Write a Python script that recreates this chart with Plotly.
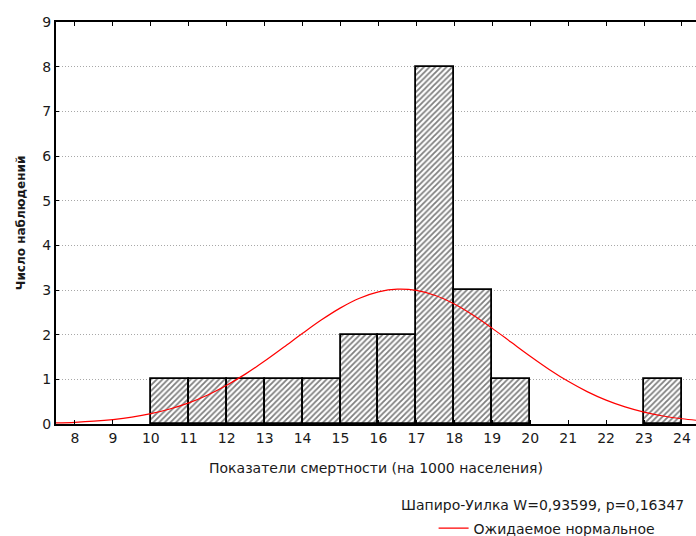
import plotly.graph_objects as go

# Histogram of mortality rates (per 1000 population)
bin_left = [10, 11, 12, 13, 14, 15, 16, 17, 18, 19, 23]
counts = [1, 1, 1, 1, 1, 2, 2, 8, 3, 1, 1]

# Expected normal curve (counts per unit bin)
curve_x = [7.5, 8, 8.5, 9, 9.5, 10, 10.5, 11, 11.5, 12, 12.5, 13, 13.5, 14,
           14.5, 15, 15.5, 16, 16.5, 17, 17.5, 18, 18.5, 19, 19.5, 20, 20.5,
           21, 21.5, 22, 22.5, 23, 23.5, 24, 24.5]
curve_y = [0.023, 0.038, 0.063, 0.100, 0.154, 0.231, 0.336, 0.474, 0.651,
           0.868, 1.122, 1.408, 1.716, 2.030, 2.332, 2.600, 2.815, 2.958,
           3.018, 2.990, 2.876, 2.685, 2.433, 2.141, 1.829, 1.518, 1.222,
           0.955, 0.725, 0.534, 0.382, 0.265, 0.179, 0.117, 0.074]

x_ticks = list(range(8, 25))
y_ticks = list(range(0, 10))

x_title = "Показатели смертности (на 1000 населения)"
y_title = "Число наблюдений"
test_text = "Шапиро-Уилка W=0,93599, p=0,16347"
curve_name = "Ожидаемое нормальное"

font = "DejaVu Sans, Verdana, sans-serif"
text_color = "#1a1a1a"

fig = go.Figure()
fig.add_trace(go.Bar(
    x=[b + 0.5 for b in bin_left],
    y=counts,
    width=1,
    marker=dict(
        color="white",
        line=dict(color="black", width=1.8),
        pattern=dict(shape="/", fgcolor="#000000", bgcolor="white",
                     size=4, solidity=0.45),
    ),
    showlegend=False,
))
fig.add_trace(go.Scatter(
    x=curve_x, y=curve_y, mode="lines", name=curve_name,
    line=dict(color="#ff0000", width=1.2, shape="spline"),
))

fig.update_layout(
    width=696, height=536,
    margin=dict(l=56, r=0, t=22, b=112, autoexpand=False),
    paper_bgcolor="white", plot_bgcolor="white",
    font=dict(family=font, size=14, color=text_color),
    bargap=0,
    xaxis=dict(
        range=[7.5, 24.37], tickvals=x_ticks, ticks="inside", ticklen=4,
        tickcolor="black", showline=True, linecolor="black", linewidth=2,
        mirror="ticks", showgrid=False, zeroline=False, automargin=False,
        tickfont=dict(size=14, color=text_color),
        title=dict(text=x_title, font=dict(size=14), standoff=18),
    ),
    yaxis=dict(
        range=[0, 9], tickvals=y_ticks, ticks="inside", ticklen=3,
        tickcolor="black", showline=True, linecolor="black", linewidth=2,
        showgrid=True, gridcolor="#a8a8a8", griddash="1px,2px", gridwidth=1,
        zeroline=False, automargin=False,
        tickfont=dict(size=14, color=text_color),
        title=dict(text="<b>" + y_title + "</b>", font=dict(size=12),
                   standoff=14),
    ),
    legend=dict(
        x=0.59, y=-0.26, xanchor="left", yanchor="middle",
        bgcolor="rgba(0,0,0,0)", font=dict(size=14),
    ),
    annotations=[dict(
        text=test_text, xref="paper", yref="paper", x=0.984, y=-0.2015,
        xanchor="right", yanchor="middle", showarrow=False,
        font=dict(size=14, color=text_color),
    )],
)

fig.write_html("out.html")
